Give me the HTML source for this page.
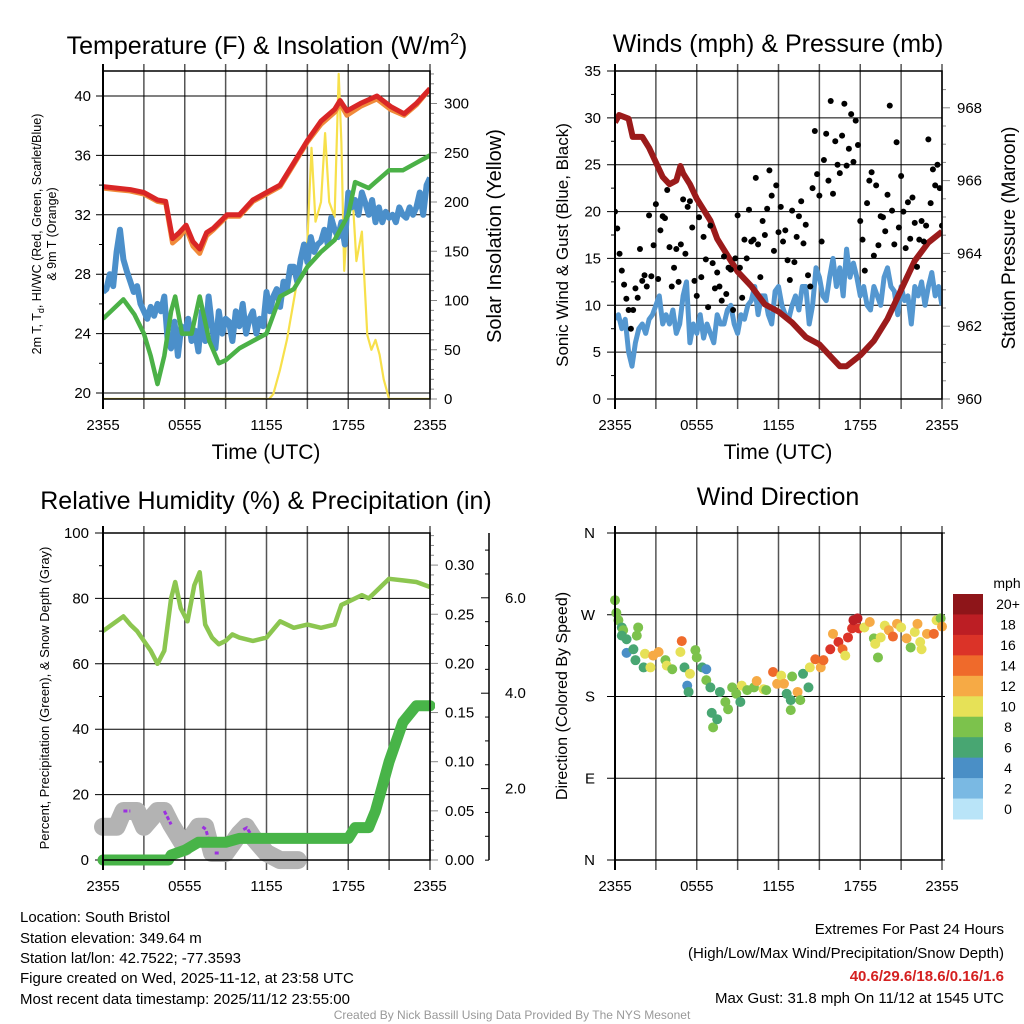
<!DOCTYPE html>
<html><head><meta charset="utf-8"><style>
body{margin:0;background:#fff;width:1024px;height:1024px;overflow:hidden;font-family:"Liberation Sans",sans-serif}
svg{display:block}
text{font-family:"Liberation Sans",sans-serif;fill:#000}
</style></head><body>
<svg id="s" width="1024" height="1024" viewBox="0 0 1024 1024">
<defs>
<clipPath id="c1"><rect x="103" y="71" width="327" height="328"/></clipPath>
<clipPath id="c2"><rect x="615" y="71" width="327" height="328"/></clipPath>
<clipPath id="c3"><rect x="93" y="533" width="342" height="337"/></clipPath>
<clipPath id="c4"><rect x="607" y="525" width="343" height="343"/></clipPath>
</defs>
<text x="267" y="54" font-size="25" text-anchor="middle">Temperature (F) &amp; Insolation (W/m<tspan dy="-10" font-size="16">2</tspan><tspan dy="10">)</tspan></text>
<text x="778" y="52" font-size="25" text-anchor="middle">Winds (mph) &amp; Pressure (mb)</text>
<text x="266" y="509" font-size="25" text-anchor="middle">Relative Humidity (%) &amp; Precipitation (in)</text>
<text x="778" y="505" font-size="25" text-anchor="middle">Wind Direction</text>
<text transform="translate(41,234) rotate(-90)" font-size="12.5" text-anchor="middle">2m T, T<tspan font-size="9" dy="3">d</tspan><tspan dy="-3">, HI/WC (Red, Green, Scarlet/Blue)</tspan></text>
<text transform="translate(56,234) rotate(-90)" font-size="12.5" text-anchor="middle">&amp; 9m T (Orange)</text>
<text transform="translate(501,236) rotate(-90)" font-size="20" text-anchor="middle">Solar Insolation (Yellow)</text>
<text transform="translate(568,245) rotate(-90)" font-size="17" text-anchor="middle">Sonic Wind &amp; Gust (Blue, Black)</text>
<text transform="translate(1015,238) rotate(-90)" font-size="19" text-anchor="middle">Station Pressure (Maroon)</text>
<text transform="translate(49,698) rotate(-90)" font-size="13" text-anchor="middle">Percent, Precipitation (Green), &amp; Snow Depth (Gray)</text>
<text transform="translate(567,696) rotate(-90)" font-size="16" text-anchor="middle">Direction (Colored By Speed)</text>
<text x="266" y="459" font-size="21" text-anchor="middle">Time (UTC)</text>
<text x="778" y="459" font-size="21" text-anchor="middle">Time (UTC)</text>
<g font-size="15">
<text x="20" y="922">Location: South Bristol</text>
<text x="20" y="943">Station elevation: 349.64 m</text>
<text x="20" y="963">Station lat/lon: 42.7522; -77.3593</text>
<text x="20" y="983">Figure created on Wed, 2025-11-12, at 23:58 UTC</text>
<text x="20" y="1004">Most recent data timestamp: 2025/11/12 23:55:00</text>
</g>
<g font-size="15" text-anchor="end">
<text x="1004" y="934">Extremes For Past 24 Hours</text>
<text x="1004" y="958">(High/Low/Max Wind/Precipitation/Snow Depth)</text>
<text x="1004" y="981" font-weight="bold" style="fill:#d42020">40.6/29.6/18.6/0.16/1.6</text>
<text x="1004" y="1003">Max Gust: 31.8 mph On 11/12 at 1545 UTC</text>
</g>
<text x="512" y="1019" font-size="12" text-anchor="middle" style="fill:#999">Created By Nick Bassill Using Data Provided By The NYS Mesonet</text>
</svg>
<script>
// ---------- data (hours since 2355 UTC) ----------
const redT=[0,1,2,3,4,4.6,5.1,5.6,6.1,6.6,7.1,7.6,8.1,9.1,10,11,12,13,14,15,16,17,17.4,17.9,18.9,20.1,21.1,22.1,23,24];
const redV=[33.9,33.8,33.7,33.5,33.0,32.9,30.4,30.8,31.3,30.2,29.7,30.8,31.1,32.0,32.0,33.0,33.5,34.0,35.5,37.0,38.3,39.1,39.7,39.0,39.5,40.0,39.3,38.8,39.5,40.5];
const orgV=[33.8,33.7,33.6,33.4,32.9,32.8,30.1,30.5,31.1,29.9,29.4,30.6,31.0,31.9,31.9,32.9,33.4,33.9,35.4,36.9,38.1,38.9,39.5,38.7,39.3,39.8,39.1,38.7,39.4,40.5];
const dewT=[0,1.5,2.3,3,3.5,4,4.5,5,5.3,5.8,6.5,7.1,7.8,8.5,9,10,11,12,13,14,15,16,17,18,18.5,19.5,20,21,22,23,24];
const dewV=[25,26.3,25.3,24,22.5,20.6,22.5,25.5,26.5,24,24,26.5,23.5,22,22.2,23,23.5,24,26.5,27,28.5,29.5,30.3,32,34.2,33.8,34.2,35,35,35.5,36];
const wcV=[26.8,27,28,27.2,29.5,31,29,28.2,27.5,26.8,27.2,26,25.5,25,25.8,25.2,26,25.5,26.5,23.5,23,24.8,22.5,24.5,24,25,23.5,24.2,22.8,25.5,23.5,26.5,24.5,23,25.5,24,25,24.8,23.5,25.5,24.5,26,24,25,25.5,24,25,24.5,26.8,25.5,26.5,27,25.8,27.5,27,28.5,28.5,27.5,29,30,28.8,30.5,29.5,30,30.2,31,30,31.8,31,30.5,31.5,30,33.5,32.5,33,32,33.5,32.8,32,33,31.5,32.5,31.5,32.2,31.8,32,31.5,32.5,32,31.8,32.5,32,32.5,33.5,32,34,34.5];
const solT=[0,12.2,12.5,13,13.5,14,14.5,15,15.3,15.6,16,16.3,16.6,17,17.3,17.5,17.7,18,18.3,18.6,19,19.4,19.7,20,20.3,20.6,21,24];
const solV=[0,0,5,30,60,100,140,160,255,180,200,270,200,185,330,260,130,200,210,140,170,65,50,60,45,20,0,0];
const tempTicks=[20,24,28,32,36,40];
const solTicks=[0,50,100,150,200,250,300];
const timeLabels=["2355","0555","1155","1755","2355"];

const windV=[8.5,9,7.5,8.5,5,3.5,6,7.5,8,7,8.5,9,10,11,8,9,8,9.5,7,8,11,12.5,6,8,7,9,6.5,8,7,6,9,8,8,9.5,10,8,7,9,8.5,10,10.5,12,9,11,11,9,8,11.5,12,10,9,8.5,10,11,9.5,12,12,8,10,14,13,11,10.5,13,15,12,14,11,16,13,14.5,13,11,12,10,9.5,12,11,10,13,14,12,11.5,9,12,10.5,11,8,12,11,12.5,10,12,13.5,11,12,10];
const gustV=[20,18.2,15.5,13.7,12.2,10.7,9.5,7.5,9.5,11.8,10.8,16,12.6,13.2,12,19.6,13.1,16.4,20.8,12.8,18,19.5,19.3,22.3,16.2,12,14,16,12.5,16.5,21.3,15.5,20.5,21.1,18.3,12.6,11,19.4,13,17.3,14.9,9.8,18.5,14.5,11.8,13.5,12,10.5,15.2,11.2,14,13.8,9.5,15,19.6,14,10.8,17,15,20.2,16.8,17,23.6,16.5,13,19,17.5,20.3,24.4,21.7,15.8,22.8,17.8,20.5,16.8,18,14.8,12.7,20.1,14.6,17.3,19.5,21.1,16.6,18.6,13.2,12,22.5,28.6,24,21.7,16.8,25.5,28.3,23.3,31.8,21.9,27.5,25,24.1,28.1,31.5,24.9,26.7,30.4,25.3,29.7,27.1,19,17,13.7,20.9,23.3,24.2,15.3,22.8,16.4,19.5,19.4,17.9,21.8,31.3,20.1,16.5,27.4,18.3,23.8,20,16.1,21,17.1,21.5,18.8,14.1,17,19,16.8,18.5,27.7,20.9,24.5,22.8,25,22.5,18.5];
const presT=[0,0.3,1,1.3,2,2.5,3,3.5,4,4.5,4.8,5,5.5,6,7,7.5,8,9,10,11,12,13,14,15,16,16.5,17,18,19,20,21,22,23,24];
const presV=[967.6,967.8,967.7,967.2,967.2,966.9,966.5,966.1,965.9,966.0,966.4,966.2,965.9,965.5,964.9,964.4,964.1,963.5,963.1,962.6,962.4,962.1,961.7,961.5,961.1,960.9,960.9,961.2,961.6,962.2,963.0,963.8,964.3,964.6];
const windTicks=[0,5,10,15,20,25,30,35];
const presTicks=[960,962,964,966,968];

const rhT=[0,1,1.5,2,2.5,3,3.5,4,4.5,5,5.3,5.7,6.2,6.7,7.1,7.5,8,8.5,9,9.5,10,11,12,13,14,15,16,17,17.5,18,19,19.5,20,20.5,21,22,23,24];
const rhV=[70,73,74.5,72,70,67,64,60,64,80,85,77,73,84,88,72,68,66,67,69,68,67,68,73,71,72,71,72,78,79,81,80,82,84,86,85.5,85,83.5];
const prT=[0,4.8,5,6,7,9,10,18,18.5,19.5,20,21,22,23,24];
const prV=[0,0,0.005,0.01,0.018,0.018,0.022,0.022,0.033,0.033,0.05,0.1,0.14,0.157,0.157];
const snT=[0,1,1.5,2.5,3,4,4.5,5,6,7,7.5,8,9,10,10.5,11,12,13,14.3];
const snV=[1.2,1.2,1.53,1.53,1.2,1.53,1.53,1.25,0.78,1.2,1.2,0.65,0.65,1.05,1.2,0.98,0.65,0.5,0.5];
const pctTicks=[0,20,40,60,80,100];
const prTicks=[0,0.05,0.10,0.15,0.20,0.25,0.30];
const snTicks=[2,4,6];

const dirT=[0,0.1,0.25,0.5,0.6,0.5,0.85,0.85,1.35,1.7,1.6,1.5,2.1,2.2,2.6,2.8,3.2,3.7,3.8,4.2,4.8,4.9,5.1,5.3,5.4,5.5,5.9,6.0,6.4,6.7,6.7,7.0,7.1,7.2,7.5,7.7,8.1,8.3,8.6,8.9,9.2,9.3,9.7,10.2,10.4,10.9,11.1,11.6,11.9,12.2,12.4,12.6,12.9,12.9,13,13.4,13.6,13.8,14.2,14.3,14.7,15.1,15.3,15.8,16.0,16.4,16.7,16.9,17.1,17.4,17.5,17.8,17.9,18.3,18.7,19,19.1,19.3,19.5,19.8,20.1,20.4,20.7,21,21.4,21.7,22,22.2,22.4,22.5,22.9,23.4,23.6,23.9,24];
const dirV=[286,272,264,256,253,247,243,228,232,256,247,220,212,227,212,225,229,220,214,210,229,241,212,192,185,205,231,223,212,210,198,190,162,146,155,185,174,166,190,183,174,192,187,190,197,188,187,207,194,203,194,183,176,165,202,185,176,205,190,212,221,212,220,232,249,240,232,225,245,255,264,266,255,256,262,244,238,223,245,258,253,246,260,256,244,234,251,260,240,232,249,249,264,266,257];
const dirS=[8,8,8,7,8,6,6,4,6,8,8,6,6,10,10,12,12,8,10,8,10,14,6,4,6,10,8,8,6,4,8,6,6,8,6,6,8,8,8,8,6,10,8,8,12,10,8,14,12,10,12,6,6,8,8,12,8,6,6,10,14,12,14,16,12,16,14,10,16,16,18,18,16,10,12,8,10,8,10,10,12,14,12,10,12,8,10,12,10,10,12,14,10,8,12];
const dirLabels=["N","E","S","W","N"];
const speedBins=["0","2","4","6","8","10","12","14","16","18","20+"];
const speedColors=["#b9e4f8","#7ab9e3","#4a8fc6","#48a672","#7cc24c","#e6e157","#f6aa45","#ef6a2b","#db3328","#bc1e24","#8e1519"];

// ---------- helpers ----------
const S=document.getElementById('s');
const NS='http://www.w3.org/2000/svg';
function mk(tag,attrs,parent){const e=document.createElementNS(NS,tag);for(const k in attrs)e.setAttribute(k,attrs[k]);(parent||S).appendChild(e);return e;}
function txt(x,y,t,size,anchor,parent){const e=mk('text',{x:x,y:y,'font-size':size,'text-anchor':anchor||'middle'},parent);e.textContent=t;return e;}
function pts(ts,vs,fx,fy){return ts.map((t,i)=>fx(t).toFixed(1)+','+fy(vs[i]).toFixed(1)).join(' ');}
function idx(n,span){const a=[];for(let i=0;i<n;i++)a.push(i*span/(n-1));return a;}

function frame(L,R,T,B,name){
  const g=mk('g',{});
  
  
  for(let i=0;i<=8;i++){const x=L+i*(R-L)/8;
    mk('line',{x1:x,x2:x,y1:T-7,y2:B+10,stroke:'#555','stroke-width':1.5},g);}
  for(let i=0;i<=4;i++){const x=L+i*(R-L)/4;
    const t=txt(x,B+31,timeLabels[i],15,'middle',g);
    
    }
  return g;
}
function box(L,R,T,B){mk('rect',{x:L,y:T,width:R-L,height:B-T,fill:'none',stroke:'#000','stroke-width':1.5});mk('line',{x1:L,x2:L,y1:T-7,y2:B+10,stroke:'#000','stroke-width':2});}

// ---------- Panel 1 ----------
(function(){
  const L=103,R=430,T=71,B=399;
  const fx=h=>L+h*(R-L)/24, fy=v=>393-(v-20)*14.85, fs=v=>399-v*0.985;
  const g=frame(L,R,T,B,'temperature');
  tempTicks.forEach(v=>{mk('line',{x1:L-7,x2:R,y1:fy(v),y2:fy(v),stroke:'#000','stroke-width':1},g);
    const t=txt(L-12,fy(v)+5,String(v),15,'end',g);
    
    });
  for(let v=22;v<41;v+=4)mk('line',{x1:L-4,x2:L,y1:fy(v),y2:fy(v),stroke:'#000'},g);
  for(let v=0;v<=330;v+=10)mk('line',{x1:R,x2:R+(v%50==0?7:4),y1:fs(v),y2:fs(v),stroke:'#888'},g);
  solTicks.forEach(v=>{const t=txt(R+14,fs(v)+5,String(v),15,'start',g);
    
    });
  const c=mk('g',{'clip-path':'url(#c1)'});
  let e;
  e=mk('polyline',{points:pts(solT,solV,fx,fs),fill:'none',stroke:'#f7e04b','stroke-width':2.2,'stroke-linejoin':'round'},c);
  
  e=mk('polyline',{points:pts(idx(wcV.length,24),wcV,fx,fy),fill:'none',stroke:'#4b8fca','stroke-width':6,'stroke-linejoin':'round'},c);
  
  e=mk('polyline',{points:pts(dewT,dewV,fx,fy),fill:'none',stroke:'#4bb147','stroke-width':4.5,'stroke-linejoin':'round'},c);
  
  e=mk('polyline',{points:pts(redT,orgV,fx,fy),fill:'none',stroke:'#f08a3a','stroke-width':5,'stroke-linejoin':'round'},c);
  
  e=mk('polyline',{points:pts(redT,redV,fx,fy),fill:'none',stroke:'#d92626','stroke-width':5,'stroke-linejoin':'round'},c);
  
  box(L,R,T,B);
})();

// ---------- Panel 2 ----------
(function(){
  const L=615,R=942,T=71,B=399;
  const fx=h=>L+h*(R-L)/24, fy=v=>B-v*(B-T)/35, fp=v=>399-(v-960)*36.4;
  const g=frame(L,R,T,B,'winds');
  windTicks.forEach(v=>{mk('line',{x1:L-8,x2:R,y1:fy(v),y2:fy(v),stroke:'#000','stroke-width':1},g);
    const t=txt(L-14,fy(v)+5,String(v),15,'end',g);
    
    });
  for(let v=2.5;v<35;v+=5)mk('line',{x1:L-4,x2:L,y1:fy(v),y2:fy(v),stroke:'#000'},g);
  for(let v=960;v<=968.9;v+=0.5)mk('line',{x1:R,x2:R+(v%2==0?8:4),y1:fp(v),y2:fp(v),stroke:'#888'},g);
  presTicks.forEach(v=>{const t=txt(R+15,fp(v)+5,String(v),15,'start',g);
    
    });
  const c=mk('g',{'clip-path':'url(#c2)'});
  let e=mk('polyline',{points:pts(idx(windV.length,24),windV,fx,fy),fill:'none',stroke:'#5497d0','stroke-width':5,'stroke-linejoin':'round'},c);
  
  e=mk('polyline',{points:pts(presT,presV,fx,fp),fill:'none',stroke:'#9b1b1b','stroke-width':6,'stroke-linejoin':'round'},c);
  
  const gt=idx(gustV.length,24);
  gustV.forEach((v,i)=>{const d=mk('circle',{cx:fx(gt[i]),cy:fy(v),r:3,fill:'#000'},c);
    
    });
  box(L,R,T,B);
})();

// ---------- Panel 3 ----------
(function(){
  const L=103,R=430,T=533,B=860;
  const fx=h=>L+h*(R-L)/24, fy=v=>B-v*(B-T)/100, fr=v=>860-v*983, fsn=v=>884-v*47.7;
  const g=frame(L,R,T,B,'humidity');
  pctTicks.forEach(v=>{mk('line',{x1:L-8,x2:R,y1:fy(v),y2:fy(v),stroke:'#000','stroke-width':1},g);
    const t=txt(L-14,fy(v)+5,String(v),15,'end',g);
    
    });
  for(let v=10;v<100;v+=20)mk('line',{x1:L-4,x2:L,y1:fy(v),y2:fy(v),stroke:'#000'},g);
  for(let v=0;v<=0.331;v+=0.01){const m=Math.abs(v*20-Math.round(v*20))<0.01;mk('line',{x1:R,x2:R+(m?8:4),y1:fr(v),y2:fr(v),stroke:'#888'},g);}
  prTicks.forEach(v=>{const t=txt(R+15,fr(v)+5,v.toFixed(2),15,'start',g);
    
    });
  mk('line',{x1:489,x2:489,y1:533,y2:860,stroke:'#000','stroke-width':1.5},g);
  for(let v=0.5;v<=7.3;v+=0.5){mk('line',{x1:489,x2:(v%2==0?481:485),y1:fsn(v),y2:fsn(v),stroke:'#000'},g);}
  snTicks.forEach(v=>{const t=txt(505,fsn(v)+5,v.toFixed(1),15,'start',g);
    
    });
  const c=mk('g',{'clip-path':'url(#c3)'});
  let e=mk('polyline',{points:pts(snT,snV,fx,fsn),fill:'none',stroke:'#b3b3b3','stroke-width':18,'stroke-linejoin':'round','stroke-linecap':'round'},c);
  
  [[1.5,2.0],[4.5,5.0],[7.3,7.8],[8.2,8.5],[10.3,10.8]].forEach(p=>{
    const a=[p[0],(p[0]+p[1])/2,p[1]];
    const v=a.map(t=>{let k=0;while(k<snT.length-2&&snT[k+1]<t)k++;const f=(t-snT[k])/(snT[k+1]-snT[k]);return snV[k]+f*(snV[k+1]-snV[k]);});
    const q=mk('polyline',{points:pts(a,v,fx,fsn),fill:'none',stroke:'#9b30e0','stroke-width':3,'stroke-dasharray':'4 2'},c);
    });
  e=mk('polyline',{points:pts(prT,prV,fx,fr),fill:'none',stroke:'#48b448','stroke-width':11,'stroke-linejoin':'round','stroke-linecap':'round'},c);
  
  e=mk('polyline',{points:pts(rhT,rhV,fx,fy),fill:'none',stroke:'#8cc650','stroke-width':4.5,'stroke-linejoin':'round'},c);
  
  box(L,R,T,B);
})();

// ---------- Panel 4 ----------
(function(){
  const L=615,R=942,T=533,B=860;
  const fx=h=>L+h*(R-L)/24, fy=d=>B-d*(B-T)/360;
  const g=frame(L,R,T,B,'direction');
  dirLabels.forEach((s,i)=>{const y=fy(i*90);mk('line',{x1:L-8,x2:R+3,y1:y,y2:y,stroke:'#000','stroke-width':1},g);
    const t=txt(L-20,y+5,s,15,'end',g);
    
    });
  const c=mk('g',{'clip-path':'url(#c4)'});
  dirV.forEach((d,i)=>{const k=Math.min(10,Math.floor(dirS[i]/2));
    const p=mk('circle',{cx:fx(dirT[i]),cy:fy(d),r:5,fill:speedColors[k]},c);
    
    });
  box(L,R,T,B);
  const lg=mk('g',{});
  
  
  txt(1007,588,'mph',14,'middle',lg);
  const h=225/11;
  speedBins.forEach((s,i)=>{const j=10-i;const y=594+i*h;
    mk('rect',{x:953,y:y,width:30,height:h+0.5,fill:speedColors[j]},lg);
    txt(1008,y+h/2+5,speedBins[j],14,'middle',lg);});
})();
</script>
</body></html>
